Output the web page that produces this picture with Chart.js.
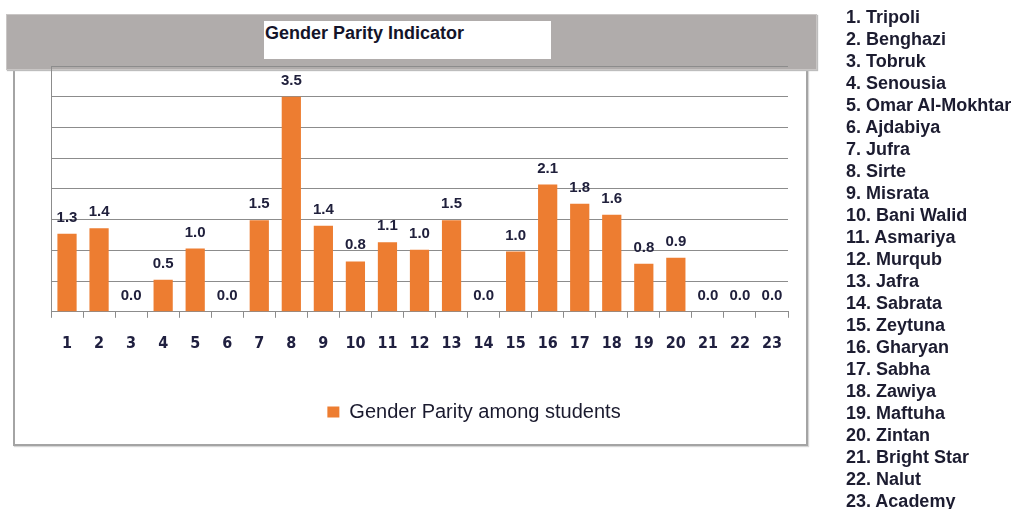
<!DOCTYPE html>
<html><head><meta charset="utf-8">
<script src="https://cdn.jsdelivr.net/npm/chart.js@4.4.1/dist/chart.umd.min.js"></script>
<style>
html,body{margin:0;padding:0;background:#fff;width:1016px;height:509px;overflow:hidden;}
#frame{position:absolute;left:13px;top:60px;width:791px;height:382px;border:2px solid #a4a4a4;box-shadow:1px 1px 1px #d6d6d6;}
#band{position:absolute;left:6px;top:14px;width:809px;height:54px;background:#b0acab;border:1px solid #c9c6c5;box-shadow:1px 1px 1px #bdbdbd;}
#titlebox{position:absolute;left:264px;top:21px;width:287px;height:38px;background:#fff;}
#title{position:absolute;left:265px;top:23px;font:bold 18px 'Liberation Sans',Arial,sans-serif;line-height:20px;color:#14142a;white-space:nowrap;}
#wrap{position:absolute;left:0;top:0;width:1016px;height:509px;}
#list{position:absolute;left:846px;top:6px;font:bold 18px 'Liberation Sans',Arial,sans-serif;line-height:22px;color:#1c1c30;margin:0;padding:0;list-style:none;white-space:nowrap;}
</style>
</head>
<body>
<div id="frame"></div>
<div id="band"></div>
<div id="titlebox"></div>
<div id="title">Gender Parity Indicator</div>
<div id="wrap"><canvas id="c" width="1016" height="509"></canvas></div>
<ul id="list"></ul>
<script>
const categories = ['1','2','3','4','5','6','7','8','9','10','11','12','13','14','15','16','17','18','19','20','21','22','23'];
const schoolNames = ['Tripoli','Benghazi','Tobruk','Senousia','Omar Al-Mokhtar','Ajdabiya','Jufra','Sirte','Misrata','Bani Walid','Asmariya','Murqub','Jafra','Sabrata','Zeytuna','Gharyan','Sabha','Zawiya','Maftuha','Zintan','Bright Star','Nalut','Academy'];
const parityValues = [1.27, 1.36, 0, 0.52, 1.03, 0, 1.49, 3.5, 1.4, 0.82, 1.13, 1.01, 1.49, 0, 0.98, 2.07, 1.76, 1.58, 0.78, 0.88, 0, 0, 0];
const seriesLabel = 'Gender Parity among students';
const chartTitle = 'Gender Parity Indicator';
const yTickMin = 0, yTickMax = 4, yTickStep = 0.5;

document.getElementById('title').textContent = chartTitle;
const list = document.getElementById('list');
schoolNames.forEach((n, i) => {
  const li = document.createElement('li');
  li.textContent = (i + 1) + '. ' + n;
  list.appendChild(li);
});

const valueLabels = {
  id: 'valueLabels',
  afterDatasetsDraw(chart) {
    const ctx = chart.ctx;
    const meta = chart.getDatasetMeta(0);
    const data = chart.data.datasets[0].data;
    ctx.save();
    ctx.font = 'bold 15px "Liberation Sans", Arial, sans-serif';
    ctx.fillStyle = '#20203c';
    ctx.textAlign = 'center';
    ctx.textBaseline = 'alphabetic';
    meta.data.forEach((bar, i) => {
      ctx.fillText(Number(data[i]).toFixed(1), bar.x, bar.y - 12);
    });
    ctx.restore();
  }
};

new Chart(document.getElementById('c'), {
  type: 'bar',
  data: {
    labels: categories,
    datasets: [{
      label: seriesLabel,
      data: parityValues,
      backgroundColor: '#ed7d31',
      borderWidth: 0,
      barPercentage: 0.6,
      categoryPercentage: 1.0,
      yAxisID: 'y'
    }]
  },
  options: {
    responsive: false,
    animation: false,
    devicePixelRatio: 1,
    layout: { padding: { left: 41, right: 109, top: 66, bottom: 77 } },
    plugins: {
      title: { display: false },
      tooltip: { enabled: false },
      legend: {
        display: true,
        position: 'bottom',
        align: 'center',
        labels: {
          boxWidth: 12,
          boxHeight: 11,
          padding: 33,
          color: '#1a1a2e',
          font: { family: "'Liberation Sans', Arial, sans-serif", size: 20, weight: 'normal' }
        }
      }
    },
    scales: {
      x: {
        offset: true,
        grid: { display: true, drawOnChartArea: false, drawTicks: true, tickLength: 6, color: '#8c8c8c', offset: true },
        border: { display: true, color: '#8c8c8c', width: 1 },
        ticks: {
          padding: 16,
          color: '#202040',
          maxRotation: 0,
          autoSkip: false,
          font: { family: "'Liberation Sans Narrow', 'DejaVu Sans Condensed', Arial, sans-serif", size: 16, weight: 'bold' }
        }
      },
      y: {
        position: 'left',
        min: yTickMin,
        max: yTickMax,
        ticks: { display: false, stepSize: yTickStep },
        grid: { display: true, drawTicks: false, color: '#8c8c8c', lineWidth: 1 },
        border: { display: true, color: '#8c8c8c', width: 1 },
        afterFit: (s) => { s.width = 10; }
      },
      yPad: {
        position: 'right',
        display: true,
        ticks: { display: false },
        grid: { display: false, drawTicks: false },
        border: { display: false },
        afterFit: (s) => { s.width = 119; }
      }
    }
  },
  plugins: [valueLabels]
});
</script>
</body></html>
